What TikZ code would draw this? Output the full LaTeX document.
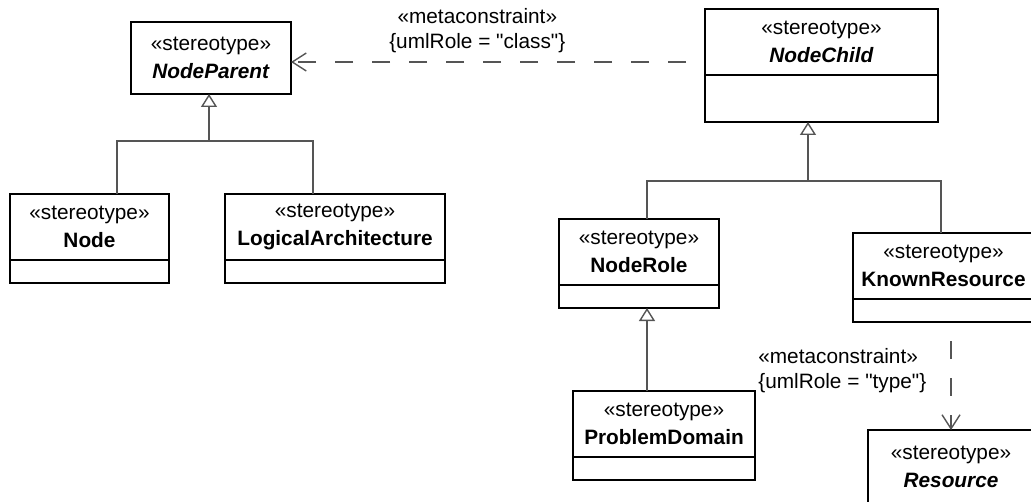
\documentclass[tikz,border=0pt]{standalone}
\usepackage{fontspec}
\setmainfont{Liberation Sans}
\usepackage{tikz}
\usetikzlibrary{positioning,arrows.meta,calc}
\definecolor{wire}{HTML}{555555}
\tikzset{
  cls/.style={rectangle, draw=black, line width=0.9pt, fill=white,
              minimum width=#1, minimum height=33pt, inner sep=0pt, outer sep=0pt,
              align=center, font=\fontsize{10.4}{14}\selectfont},
  comp/.style={rectangle, draw=black, line width=0.9pt, fill=white,
               minimum width=#1, minimum height=11.5pt, inner sep=0pt, outer sep=0pt},
  tree/.style={line width=0.7pt, draw=wire},
  gen/.style={-{Triangle[open,length=6.5pt,width=8pt]}, line width=0.7pt, draw=wire},
  meta/.style={-{Straight Barb[length=7pt,width=9pt]}, line width=0.7pt, draw=wire,
               dash pattern=on 9pt off 9.5pt, dash phase=9pt},
  lbl/.style={font=\fontsize{10.4}{12.5}\selectfont, inner sep=0pt},
}

\begin{document}
\begin{tikzpicture}[x=0.5pt,y=-0.5pt]
  \useasboundingbox (0,0) rectangle (1031,502);
  \clip (0,0) rectangle (1031,502);

  % classes, left group
  \node[cls=80pt, minimum height=36pt] (nparent) at (211,58) {«stereotype»\\\textbf{\textit{NodeParent}}};
  \node[cls=79.5pt] (node) at (89.5,227) {«stereotype»\\\textbf{Node}};
  \node[comp=79.5pt, anchor=north] (node-c) at (node.south) {};
  \node[cls=110pt] (larch) at (335,227) {«stereotype»\\\textbf{LogicalArchitecture}};
  \node[comp=110pt, anchor=north] (larch-c) at (larch.south) {};

  % classes, right group
  \node[cls=116.5pt] (nchild) at (821.5,42) {«stereotype»\\\textbf{\textit{NodeChild}}};
  \node[comp=116.5pt, anchor=north, minimum height=23.5pt] (nchild-c) at (nchild.south) {};
  \node[cls=80pt] (nrole) at (639,252) {«stereotype»\\\textbf{NodeRole}};
  \node[comp=80pt, anchor=north] (nrole-c) at (nrole.south) {};
  \node[cls=90.5pt] (kres) at (943.5,266) {«stereotype»\\\textbf{KnownResource}};
  \node[comp=90.5pt, anchor=north] (kres-c) at (kres.south) {};
  \node[cls=91pt] (pdom) at (664,424) {«stereotype»\\\textbf{ProblemDomain}};
  \node[comp=91pt, anchor=north] (pdom-c) at (pdom.south) {};
  \node[cls=83pt, minimum height=37pt] (res) at (951,467) {«stereotype»\\\textbf{\textit{Resource}}};

  % generalisation to NodeParent
  \coordinate (npL) at (117,141);
  \coordinate (npR) at (313,141);
  \coordinate (npJ) at (209,141);
  \draw[tree] (npL |- node.north) -- (npL) -- (npR) -- (npR |- larch.north);
  \draw[gen] (npJ) -- (npJ |- nparent.south);

  % generalisation to NodeChild
  \coordinate (ncL) at (647,181);
  \coordinate (ncR) at (941,181);
  \coordinate (ncJ) at (808,181);
  \draw[tree] (ncL |- nrole.north) -- (ncL) -- (ncR) -- (ncR |- kres.north);
  \draw[gen] (ncJ) -- (ncJ |- nchild-c.south);
  \draw[gen] (ncL |- pdom.north) -- (ncL |- nrole-c.south);

  % metaconstraints
  \coordinate (npe) at ([yshift=-2pt]nparent.east);
  \draw[meta] (npe -| nchild.west) -- (npe)
    node[pos=0.55, above=4pt, lbl, align=center] {«metaconstraint»\\\{umlRole = \textquotedbl class\textquotedbl\}};
  \draw[meta] (kres-c.south -| res.north) -- (res.north)
    node[pos=0.45, left=12pt, lbl, align=left] {«metaconstraint»\\\{umlRole = \textquotedbl type\textquotedbl\}};
\end{tikzpicture}
\end{document}
